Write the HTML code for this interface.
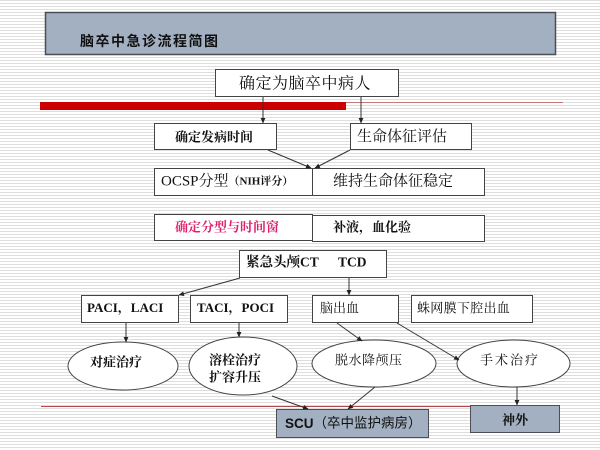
<!DOCTYPE html>
<html><head><meta charset="utf-8"><style>
html,body{margin:0;padding:0;width:600px;height:450px;overflow:hidden;background:#fff}
svg{display:block}
.s{font-family:"Liberation Serif","Noto Serif CJK SC",serif}
.h{font-family:"Liberation Sans","Noto Sans CJK SC",sans-serif}
</style></head><body>
<svg width="600" height="450" viewBox="0 0 600 450" xmlns="http://www.w3.org/2000/svg">
<defs>
<pattern id="st" width="4" height="3" patternUnits="userSpaceOnUse">
<rect width="4" height="3" fill="#ffffff"/><rect y="0" width="4" height="1" fill="#dedede"/>
</pattern>
<marker id="a" markerWidth="6" markerHeight="6" refX="5" refY="3" orient="auto" markerUnits="userSpaceOnUse">
<path d="M0,0.6 L5.5,3 L0,5.4z" fill="#222"/>
</marker>
</defs>
<rect width="600" height="450" fill="url(#st)"/>

<!-- title -->
<rect x="45.5" y="12.5" width="510" height="42" fill="#a3b0c1" stroke="#4a4f55" stroke-width="1.5"/>
<text x="80" y="41" dominant-baseline="central" class="h" font-size="14" font-weight="bold" letter-spacing="1.5" fill="#111">脑卒中急诊流程简图</text>

<!-- red bar & lines -->
<rect x="40" y="102" width="306" height="8" fill="#cc0000"/>
<line x1="346" y1="102.5" x2="563" y2="102.5" stroke="#c87878" stroke-width="1"/>
<line x1="41" y1="406.5" x2="560" y2="406.5" stroke="#b04a4a" stroke-width="1"/>

<g stroke="#444" stroke-width="1" fill="#fff">
<rect x="215.5" y="69.5" width="183" height="27"/>
<rect x="154.5" y="123.5" width="122" height="26"/>
<rect x="350.5" y="123.5" width="121" height="26"/>
<rect x="154.5" y="168.5" width="158" height="27"/>
<rect x="312.5" y="168.5" width="172" height="27"/>
<rect x="154.5" y="214.5" width="158" height="26"/>
<rect x="312.5" y="215.5" width="172" height="26"/>
<rect x="239.5" y="250.5" width="147" height="27"/>
<rect x="81.5" y="295.5" width="97" height="27"/>
<rect x="190.5" y="295.5" width="97" height="27"/>
<rect x="312.5" y="295.5" width="86" height="27"/>
<rect x="411.5" y="295.5" width="121" height="27"/>
<ellipse cx="123" cy="366" rx="55" ry="24"/>
<ellipse cx="243" cy="366" rx="54" ry="29"/>
<ellipse cx="374" cy="363.5" rx="62" ry="23.5"/>
<ellipse cx="513.5" cy="363.5" rx="56.5" ry="23.5"/>
</g>
<rect x="276.5" y="409.5" width="152" height="28" fill="#a3b0c1" stroke="#4a4f55" stroke-width="1"/>
<rect x="470.5" y="405.5" width="89" height="27" fill="#a3b0c1" stroke="#4a4f55" stroke-width="1"/>

<!-- connectors -->
<g stroke="#333" stroke-width="1" fill="none" marker-end="url(#a)">
<line x1="263" y1="97" x2="263" y2="123"/>
<line x1="361" y1="97" x2="361" y2="123"/>
<line x1="268" y1="150" x2="311" y2="168"/>
<line x1="350" y1="150" x2="315" y2="168"/>
<line x1="240" y1="278" x2="179" y2="295"/>
<line x1="349" y1="278" x2="349" y2="295"/>
<line x1="126" y1="323" x2="126" y2="342"/>
<line x1="239" y1="323" x2="239" y2="337"/>
<line x1="337" y1="323" x2="362" y2="341"/>
<line x1="397" y1="323" x2="459" y2="360"/>
<line x1="272" y1="396" x2="308" y2="409"/>
<line x1="375" y1="387" x2="348" y2="409"/>
<line x1="517" y1="387" x2="517" y2="405"/>
</g>

<!-- texts -->
<g fill="#111" dominant-baseline="central">
<text x="239" y="84" class="s" font-size="16" letter-spacing="0.5">确定为脑卒中病人</text>
<text x="175" y="137" class="s" font-size="13" font-weight="bold">确定发病时间</text>
<text x="357" y="137" class="s" font-size="15">生命体征评估</text>
<text x="161" y="181.5" class="s" font-size="15">OCSP分型<tspan font-size="11" font-weight="bold">（NIH评分）</tspan></text>
<text x="333" y="181.5" class="s" font-size="15">维持生命体征稳定</text>
<text x="175" y="227" class="s" font-size="13" font-weight="bold" fill="#e0206e">确定分型与时间窗</text>
<text x="333" y="227" class="s" font-size="13" font-weight="bold">补液，血化验</text>
<text x="246" y="262" class="s" font-size="13.5" font-weight="bold">紧急头颅CT</text>
<text x="338" y="262" class="s" font-size="13.5" font-weight="bold">TCD</text>
<text x="87" y="307.5" class="s" font-size="13" font-weight="bold">PACI，LACI</text>
<text x="197" y="307.5" class="s" font-size="13" font-weight="bold">TACI，POCI</text>
<text x="320" y="308" class="s" font-size="13">脑出血</text>
<text x="417" y="308" class="s" font-size="13" letter-spacing="0.3">蛛网膜下腔出血</text>
<text x="90" y="362" class="s" font-size="13" font-weight="bold">对症治疗</text>
<text x="209" y="360" class="s" font-size="13" font-weight="bold">溶栓治疗</text>
<text x="209" y="377" class="s" font-size="13" font-weight="bold">扩容升压</text>
<text x="335" y="360" class="s" font-size="13" letter-spacing="0.5">脱水降颅压</text>
<text x="480" y="360" class="s" font-size="13" letter-spacing="2">手术治疗</text>
<text x="285" y="423" class="h" font-size="13.5"><tspan font-weight="bold">SCU</tspan>（卒中监护病房）</text>
<text x="502" y="420" class="s" font-size="13" font-weight="bold">神外</text>
</g>
</svg>
</body></html>
